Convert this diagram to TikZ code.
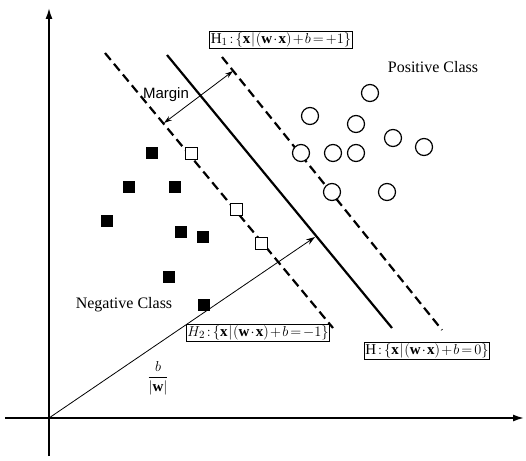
\documentclass[tikz,border=0pt]{standalone}
\usepackage{fontspec}
\usepackage{amsmath}
\setmainfont{Liberation Serif}
\newfontfamily\arialfont{Liberation Sans}
\usetikzlibrary{arrows.meta}
\newcommand{\tighteq}[1]{\thickmuskip=2.5mu\medmuskip=1.5mu\thinmuskip=1mu$#1$}
\begin{document}
\begin{tikzpicture}[x=1pt,y=-1pt,
  dashln/.style={line width=2.2pt, dash pattern=on 9pt off 5pt},
  solidln/.style={line width=2.2pt},
  axisln/.style={line width=1.6pt,-{Latex[length=11pt,width=7pt]}},
  thinarrow/.style={line width=0.8pt},
  fsq/.style={rectangle, fill=black, draw=none, minimum size=12.5pt, inner sep=0pt},
  osq/.style={rectangle, fill=white, draw=black, line width=1pt, minimum size=12pt, inner sep=0pt},
  ocirc/.style={circle, fill=white, draw=black, line width=1.2pt, minimum size=17pt, inner sep=0pt},
  eqbox/.style={draw, line width=0.9pt, fill=white, inner sep=1.2pt, font=\fontsize{15}{17}\selectfont},
  lbl/.style={font=\fontsize{16}{18}\selectfont, inner sep=0pt},
]
\useasboundingbox (0,0) rectangle (526,460);
% axes
\coordinate (O) at (49,418);
\coordinate (ytop) at (49,8);
\coordinate (ybot) at (49,456);
\coordinate (xl) at (5,418);
\coordinate (xr) at (524,418);
\draw[axisln] (ybot) -- (ytop);
\draw[axisln] (xl) -- (xr);
% hyperplanes
\coordinate (h2a) at (105,53);
\coordinate (h2b) at (333,328);
\coordinate (ha) at (167,55);
\coordinate (hb) at (392,328);
\coordinate (h1a) at (222,57);
\coordinate (h1b) at (442,330);
\draw[dashln] (h2a) -- (h2b);
\draw[solidln] (ha) -- (hb);
\draw[dashln] (h1a) -- (h1b);
% normal vector
\coordinate (P) at (315,237);
\draw[thinarrow,-{Stealth[length=9pt,width=6pt]}] (O) -- (P);
% margin
\coordinate (m1) at (164,123);
\coordinate (m2) at (233,71);
\draw[thinarrow,{Stealth[length=8pt,width=5pt]}-{Stealth[length=8pt,width=5pt]}] (m1) -- (m2);
\node[font=\arialfont\fontsize{15}{17}\selectfont, inner sep=0pt] (margin) at (166,95) {Margin};
% negative class
\node[fsq] (n1) at (152,153) {};
\node[fsq] (n2) at (129,187) {};
\node[fsq] (n3) at (175,187) {};
\node[fsq] (n4) at (107,221) {};
\node[fsq] (n5) at (181,232) {};
\node[fsq] (n6) at (203,237) {};
\node[fsq] (n7) at (169,277) {};
\node[fsq] (n8) at (204,305) {};
\node[osq] (s1) at (191,153) {};
\node[osq] (s2) at (236,209) {};
\node[osq] (s3) at (261,243) {};
% positive class
\node[ocirc] (p1) at (370,93) {};
\node[ocirc] (p2) at (310,116) {};
\node[ocirc] (p3) at (356,124) {};
\node[ocirc] (p4) at (393,138) {};
\node[ocirc] (p5) at (424,147) {};
\node[ocirc] (p6) at (301,153) {};
\node[ocirc] (p7) at (333,153) {};
\node[ocirc] (p8) at (356,153) {};
\node[ocirc] (p9) at (332,192) {};
\node[ocirc] (p10) at (387,192) {};
% labels
\node[lbl] (pos) at (433,67) {Positive Class};
\node[lbl] (neg) at (124,305) {Negative Class};
\node[inner sep=0pt, font=\fontsize{15}{17}\selectfont] (frac) at (158,378) {$\dfrac{b}{\left|\mathbf{w}\right|}$};
\node[eqbox] (H1) at (281,40) {\tighteq{\mathrm{H}_1:\left\{\mathbf{x}\,|\,(\mathbf{w}\cdot\mathbf{x})+b=+1\right\}}};
\node[eqbox] (H2) at (258,333) {\tighteq{H_2:\left\{\mathbf{x}\,|\,(\mathbf{w}\cdot\mathbf{x})+b=-1\right\}}};
\node[eqbox] (H) at (427,351) {\tighteq{\mathrm{H}:\left\{\mathbf{x}\,|\,(\mathbf{w}\cdot\mathbf{x})+b=0\right\}}};
\end{tikzpicture}
\end{document}
